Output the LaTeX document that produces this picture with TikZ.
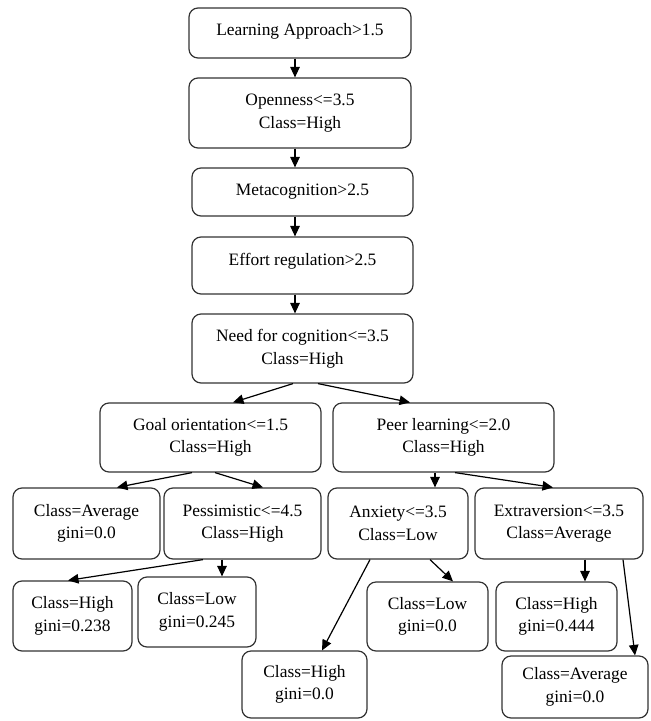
\documentclass[tikz,border=0pt]{standalone}
\usepackage{fontspec}
\setmainfont{Liberation Serif}
\usetikzlibrary{arrows.meta}
\begin{document}
\begin{tikzpicture}[x=1pt,y=-1pt,
  box/.style={draw=black!80, line width=1.2pt, rounded corners=9pt,
    align=center, inner sep=0pt, font=\fontsize{17.4}{22.5}\selectfont},
  link/.style={draw=black, line width=1.2pt, -{Triangle[length=10.5pt,width=9.5pt]}}]
\useasboundingbox (0,0) rectangle (651,721);

% decision chain
\node[box, minimum width=222, minimum height=50, text depth=7pt] (la) at (300,33) {Learning Approach>1.5};
\node[box, minimum width=222, minimum height=70] (op) at (300,113) {Openness<=3.5\\Class=High};
\node[box, minimum width=221, minimum height=48] (mc) at (302.5,192) {Metacognition>2.5};
\node[box, minimum width=221, minimum height=57, text depth=13pt] (er) at (302.5,265.5) {Effort regulation>2.5};
\node[box, minimum width=221, minimum height=69] (nc) at (302.5,348.5) {Need for cognition<=3.5\\Class=High};

% second level
\node[box, minimum width=221, minimum height=69] (go) at (210.5,437.5) {Goal orientation<=1.5\\Class=High};
\node[box, minimum width=221, minimum height=69] (pl) at (443.5,437.5) {Peer learning<=2.0\\Class=High};

% third level
\node[box, minimum width=147, minimum height=71] (ca) at (86.5,523.5) {Class=Average\\gini=0.0};
\node[box, minimum width=157, minimum height=71] (pe) at (242.5,523.5) {Pessimistic<=4.5\\Class=High};
\node[box, minimum width=140, minimum height=71] (ax) at (398,523.5) {Anxiety<=3.5\\Class=Low};
\node[box, minimum width=168, minimum height=71] (ex) at (559,523.5) {Extraversion<=3.5\\Class=Average};

% leaves
\node[box, minimum width=119, minimum height=70] (h238) at (72.5,616) {Class=High\\gini=0.238};
\node[box, minimum width=118, minimum height=70] (l245) at (197,612) {Class=Low\\gini=0.245};
\node[box, minimum width=125, minimum height=67] (h00) at (304.5,684.5) {Class=High\\gini=0.0};
\node[box, minimum width=121, minimum height=69] (l00) at (427.5,616.5) {Class=Low\\gini=0.0};
\node[box, minimum width=121, minimum height=69] (h444) at (556.5,616.5) {Class=High\\gini=0.444};
\node[box, minimum width=146, minimum height=62] (a00) at (575,687) {Class=Average\\gini=0.0};

% connectors
\draw[link] ([xshift=-5]la.south) -- ([xshift=-5]op.north);
\draw[link] ([xshift=-5]op.south) -- ([xshift=-7.5]mc.north);
\draw[link] ([xshift=-7.5]mc.south) -- ([xshift=-7.5]er.north);
\draw[link] ([xshift=-7.5]er.south) -- ([xshift=-7.5]nc.north);
\draw[link] ([xshift=-9.5]nc.south) -- ([xshift=22.5]go.north);
\draw[link] ([xshift=15.5]nc.south) -- ([xshift=-33.5]pl.north);
\draw[link] ([xshift=-18.5]go.south) -- ([xshift=30.5]ca.north);
\draw[link] ([xshift=4.5]go.south) -- ([xshift=20.5]pe.north);
\draw[link] ([xshift=-8.5]pl.south) -- ([xshift=37]ax.north);
\draw[link] ([xshift=11.5]pl.south) -- ([xshift=-6]ex.north);
\draw[link] ([xshift=-39.5]pe.south) -- ([xshift=-4.5]h238.north);
\draw[link] ([xshift=-20.5]pe.south) -- ([xshift=25]l245.north);
\draw[link] ([xshift=-28]ax.south) -- ([xshift=17.5]h00.north);
\draw[link] ([xshift=32]ax.south) -- ([xshift=25.5]l00.north);
\draw[link] ([xshift=26]ex.south) -- ([xshift=28.5]h444.north);
\draw[link] ([xshift=64]ex.south) -- ([xshift=60]a00.north);
\end{tikzpicture}
\end{document}
